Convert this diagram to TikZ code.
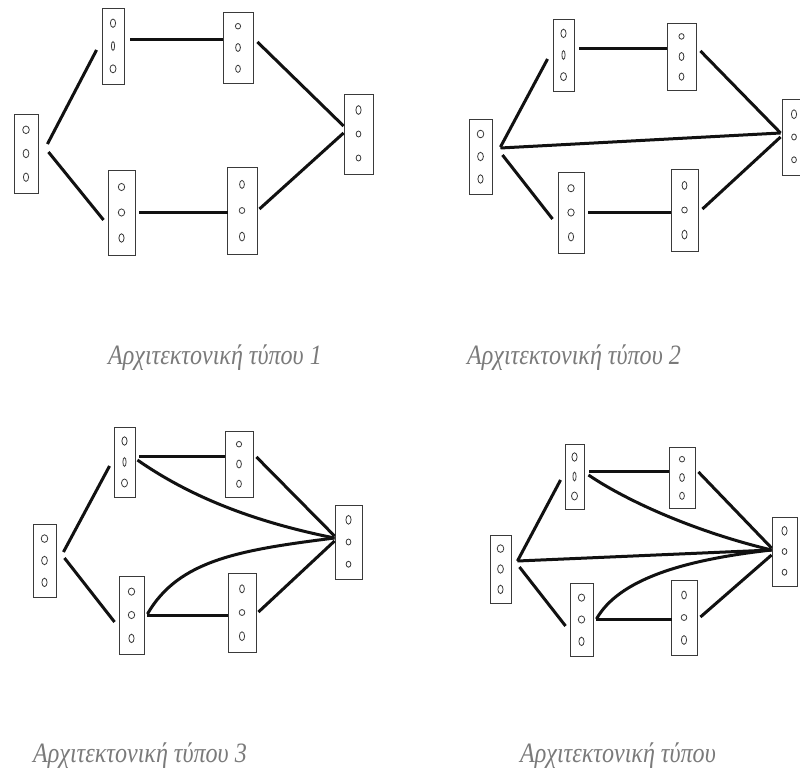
\documentclass[tikz,border=0pt]{standalone}
\usepackage{fontspec}
\setmainfont{Liberation Serif}
\usetikzlibrary{calc}
\definecolor{ink}{HTML}{111111}
\definecolor{framegray}{HTML}{3A3A3A}
\definecolor{captiongray}{HTML}{7A7A7A}

% dot shapes (x radius / y radius) of the three neurons in each kind of layer
\def\dotsIn{3.3/3.8,2.9/4.2,2.6/4.2}
\def\dotsUpA{2.6/4.2,1.6/4.4,3.0/4.0}
\def\dotsUpB{2.6/2.8,2.4/4.0,2.4/3.6}
\def\dotsOut{2.6/4.4,2.4/3.0,2.4/3.0}
\def\dotsLoA{3.2/3.6,3.2/3.6,2.6/4.2}
\def\dotsLoB{2.4/4.0,2.8/3.0,2.6/4.4}

\begin{document}
\begin{tikzpicture}[x=1pt,y=-1pt,
  layer/.style={draw=framegray,line width=0.9pt,inner sep=0pt,fill=white},
  dotline/.style={draw=framegray,line width=0.8pt},
  wire/.style={draw=ink,line width=3pt},
  caption/.style={font=\fontsize{28}{32}\selectfont\itshape,text=captiongray,
    anchor=base west,inner sep=0pt,xscale=0.86,transform shape}]
  \fill[white] (0,0) rectangle (800,778);
  \clip (0,0) rectangle (800,778);

  % a layer: frame plus three neurons stacked inside
  \newcommand{\layerbox}[6]{%
    \node[layer,minimum width=#4,minimum height=#5] (#1) at (#2,#3) {};
    \foreach \rx/\ry [count=\k] in #6
      \draw[dotline] ($(#1.center)+(0,{(\k-2)*0.3*#5})$) ellipse ({\rx} and {\ry});
  }

  % Type 1: two parallel branches
  \layerbox{in1}{26}{153.5}{24}{79}{\dotsIn}
  \layerbox{up1a}{113}{46}{22}{76}{\dotsUpA}
  \layerbox{up1b}{238}{47.5}{30}{71}{\dotsUpB}
  \layerbox{out1}{358.5}{134}{29}{80}{\dotsOut}
  \layerbox{lo1a}{121.5}{212.5}{27}{85}{\dotsLoA}
  \layerbox{lo1b}{242}{210.5}{30}{87}{\dotsLoB}
  \draw[wire] ([shift={(9,-9.5)}]in1.east) -- ([shift={(-5,4)}]up1a.west);
  \draw[wire] ([shift={(10,-1.5)}]in1.east) -- ([shift={(-4,7.5)}]lo1a.west);
  \draw[wire] ([shift={(6,-6)}]up1a.east) -- ([shift={(0,-7.5)}]up1b.west);
  \draw[wire] ([shift={(4,-5.5)}]up1b.east) -- ([shift={(0,-8)}]out1.west);
  \draw[wire] ([shift={(4,-0.5)}]lo1a.east) -- ([shift={(1,1.5)}]lo1b.west);
  \draw[wire] ([shift={(2,-1.5)}]lo1b.east) -- ([shift={(0,-1)}]out1.west);
  \node[caption] (cap1) at (108,364) {Αρχιτεκτονική τύπου 1};

  % Type 2: plus a direct input-output link
  \layerbox{in2}{480.5}{156.5}{23}{75}{\dotsIn}
  \layerbox{up2a}{563.5}{55}{21}{72}{\dotsUpA}
  \layerbox{up2b}{681.5}{56.5}{29}{67}{\dotsUpB}
  \layerbox{out2}{794}{137}{24}{76}{\dotsOut}
  \layerbox{lo2a}{571}{212.5}{26}{81}{\dotsLoA}
  \layerbox{lo2b}{684.5}{210}{27}{82}{\dotsLoB}
  \draw[wire] ([shift={(8,-9.5)}]in2.east) -- ([shift={(-5,4)}]up2a.west);
  \draw[wire] ([shift={(8,-8.5)}]in2.east) -- ([shift={(-1,-4)}]out2.west);
  \draw[wire] ([shift={(10,-1.5)}]in2.east) -- ([shift={(-5,6.5)}]lo2a.west);
  \draw[wire] ([shift={(5,-6)}]up2a.east) -- ([shift={(0,-7.5)}]up2b.west);
  \draw[wire] ([shift={(4,-5.5)}]up2b.east) -- ([shift={(-1,-4)}]out2.west);
  \draw[wire] ([shift={(4,-0.5)}]lo2a.east) -- ([shift={(0,2)}]lo2b.west);
  \draw[wire] ([shift={(4,-1)}]lo2b.east) -- ([shift={(-1,0)}]out2.west);
  \node[caption] (cap2) at (467,364) {Αρχιτεκτονική τύπου 2};

  % Type 3: first hidden layers skip to the output
  \layerbox{in3}{44.5}{560.5}{23}{73}{\dotsIn}
  \layerbox{up3a}{124.5}{462}{21}{70}{\dotsUpA}
  \layerbox{up3b}{239}{464}{28}{66}{\dotsUpB}
  \layerbox{out3}{348.5}{542}{27}{74}{\dotsOut}
  \layerbox{lo3a}{131.5}{615}{25}{78}{\dotsLoA}
  \layerbox{lo3b}{242}{612.5}{28}{79}{\dotsLoB}
  \draw[wire] ([shift={(7,-8.5)}]in3.east) -- ([shift={(-4,4)}]up3a.west);
  \draw[wire] ([shift={(8,-2.5)}]in3.east) -- ([shift={(-4,7)}]lo3a.west);
  \draw[wire] ([shift={(4,-6)}]up3a.east) -- ([shift={(0,-8)}]up3b.west);
  \draw[wire] ([shift={(2,-2)}]up3a.east) .. controls +(53,37) and +(-80,-16) .. ([shift={(0,-4)}]out3.west);
  \draw[wire] ([shift={(3,-7)}]up3b.east) -- ([shift={(0,-6)}]out3.west);
  \draw[wire] ([shift={(3,-1)}]lo3a.east) .. controls +(31,-54) and +(-95,12) .. ([shift={(0,-4)}]out3.west);
  \draw[wire] ([shift={(3,0)}]lo3a.east) -- ([shift={(0,2.5)}]lo3b.west);
  \draw[wire] ([shift={(2,-0.5)}]lo3b.east) -- ([shift={(0,-1)}]out3.west);
  \node[caption] (cap3) at (33,762) {Αρχιτεκτονική τύπου 3};

  % Type 4: skips plus the direct link
  \layerbox{in4}{500.5}{569}{21}{68}{\dotsIn}
  \layerbox{up4a}{574.5}{476.5}{19}{65}{\dotsUpA}
  \layerbox{up4b}{682}{477.5}{26}{61}{\dotsUpB}
  \layerbox{out4}{784.5}{551.5}{25}{69}{\dotsOut}
  \layerbox{lo4a}{581.5}{619.5}{23}{73}{\dotsLoA}
  \layerbox{lo4b}{684}{617.5}{26}{75}{\dotsLoB}
  \draw[wire] ([shift={(6,-8)}]in4.east) -- ([shift={(-4,3.5)}]up4a.west);
  \draw[wire] ([shift={(6,-8)}]in4.east) -- ([shift={(0,-1.5)}]out4.west);
  \draw[wire] ([shift={(8,-2)}]in4.east) -- ([shift={(-4,6.5)}]lo4a.west);
  \draw[wire] ([shift={(5,-5.5)}]up4a.east) -- ([shift={(0,-6.5)}]up4b.west);
  \draw[wire] ([shift={(4,-1.5)}]up4a.east) .. controls +(40,27) and +(-75,-18) .. ([shift={(0,-1.5)}]out4.west);
  \draw[wire] ([shift={(3,-5.5)}]up4b.east) -- ([shift={(0,-3.5)}]out4.west);
  \draw[wire] ([shift={(3,-0.5)}]lo4a.east) .. controls +(22,-39) and +(-90,10) .. ([shift={(0,-1.5)}]out4.west);
  \draw[wire] ([shift={(3,-0.5)}]lo4a.east) -- ([shift={(1,1.5)}]lo4b.west);
  \draw[wire] ([shift={(3,-0.5)}]lo4b.east) -- ([shift={(0,3.5)}]out4.west);
  \node[caption] (cap4) at (520,762) {Αρχιτεκτονική τύπου};
\end{tikzpicture}
\end{document}
